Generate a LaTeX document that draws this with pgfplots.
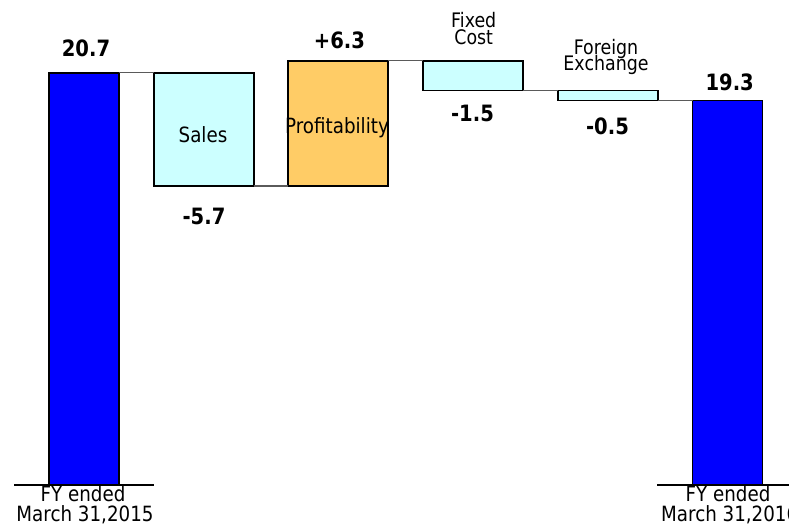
\documentclass[border=0pt]{standalone}
\usepackage{fontspec}
\setmainfont{DejaVu Sans}[FakeStretch=0.87]
\usepackage{pgfplots}
\pgfplotsset{compat=1.18}
\definecolor{barblue}{RGB}{0,0,255}
\definecolor{lightcyan}{RGB}{204,255,255}
\definecolor{lightorange}{RGB}{255,204,102}
\definecolor{conn}{RGB}{90,90,90}
\newcommand\fs[1]{\fontsize{#1bp}{#1bp}\selectfont}
\pgfplotsset{wf/.style={scale only axis, width=789bp, height=531bp,
  xmin=0, xmax=789, ymin=-2.309, ymax=24.347, hide axis, clip=false}}
\tikzset{lbl/.style={anchor=base, inner sep=0pt, text height=0.7em, text depth=0pt}}
\begin{document}
\begin{tikzpicture}
% floating bars (waterfall steps)
\begin{axis}[wf, ybar stacked, bar width=100, line width=1.8bp]
\addplot[draw=none, fill=none] coordinates {(204,15.0) (338,15.0) (473,19.8) (608,19.3)};
\addplot[fill=lightcyan, draw=black] coordinates {(204,5.7) (338,0) (473,1.5) (608,0.5)};
\addplot[fill=lightorange, draw=black] coordinates {(204,0) (338,6.3) (473,0) (608,0)};
\end{axis}
\begin{axis}[wf]
\addplot[ybar, bar width=70, bar shift=0pt, fill=barblue, draw=black, line width=1.8bp]
  coordinates {(84,20.7) (727.5,19.3)};
% base lines
\addplot[black, line width=1.8bp] coordinates {(14,0) (154,0)};
\addplot[black, line width=1.8bp] coordinates {(657,0) (800,0)};
% connectors
\addplot[conn, line width=1.5bp] coordinates {(119,20.7) (154,20.7)};
\addplot[conn, line width=1.5bp] coordinates {(254,15.0) (288,15.0)};
\addplot[conn, line width=1.5bp] coordinates {(388,21.3) (423,21.3)};
\addplot[conn, line width=1.5bp] coordinates {(523,19.8) (558,19.8)};
\addplot[conn, line width=1.5bp] coordinates {(658,19.3) (693,19.3)};
% value labels
\node[lbl, font=\bfseries\fs{22.5}] at (86,21.50) {20.7};
\node[lbl, font=\bfseries\fs{22.5}] at (339.5,21.89) {+6.3};
\node[lbl, font=\bfseries\fs{22.5}] at (204,13.10) {-5.7};
\node[lbl, font=\bfseries\fs{22.5}] at (472.5,18.24) {-1.5};
\node[lbl, font=\bfseries\fs{22.5}] at (607.5,17.62) {-0.5};
\node[lbl, font=\bfseries\fs{22.5}] at (729.7,19.79) {19.3};
% category labels
\node[lbl, font=\fs{21}] at (203,17.18) {Sales};
\node[lbl, font=\fs{21}] at (337,17.66) {Profitability};
\node[lbl, font=\fs{20}] at (473.7,22.95) {Fixed};
\node[lbl, font=\fs{20}] at (473.7,22.10) {Cost};
\node[lbl, font=\fs{20}] at (606,21.59) {Foreign};
\node[lbl, font=\fs{20}] at (606,20.83) {Exchange};
\node[lbl, font=\fs{21}] at (83,-0.838) {FY ended};
\node[lbl, font=\fs{21}] at (85,-1.842) {March 31,2015};
\node[lbl, font=\fs{21}] at (728,-0.838) {FY ended};
\node[lbl, font=\fs{21}] at (729.7,-1.842) {March 31,2016};
\end{axis}
\pgfresetboundingbox
\path[use as bounding box] (current axis.south west) rectangle (current axis.north east);
\end{tikzpicture}
\end{document}
